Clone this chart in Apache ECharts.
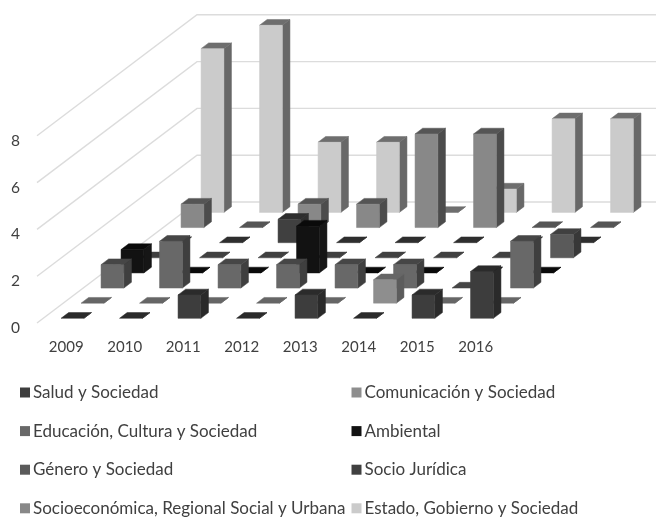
<!DOCTYPE html>
<html>
<head>
<meta charset="utf-8">
<style>
  html, body { margin: 0; padding: 0; background: #fff; }
  #chart { width: 656px; height: 517px; }
</style>
</head>
<body>
<div id="chart"></div>
<script src="https://cdn.jsdelivr.net/npm/echarts@6/dist/echarts.min.js"></script>
<script>
const years = ['2009', '2010', '2011', '2012', '2013', '2014', '2015', '2016']
const valueTicks = [0, 2, 4, 6, 8]

// filas de delante hacia atrás
const salud = [0, 0, 1, 0, 1, 0, 1, 2]
const comunicacion = [0, 0, 0, 0, 0, 1, 0, 0]
const educacion = [1, 2, 1, 1, 1, 1, 0, 2]
const ambiental = [1, 0, 0, 2, 0, 0, 0, 0]
const genero = [0, 0, 0, 0, 0, 0, 0, 1]
const socioJuridica = [0, 0, 1, 0, 0, 0, 0, 0]
const socioeconomica = [1, 0, 1, 1, 4, 4, 0, 0]
const estado = [7, 8, 3, 3, 0, 1, 4, 4]

const rows = [
  { name: 'Salud y Sociedad', values: salud, front: '#3d3d3d', top: '#2b2b2b', side: '#2a2a2a' },
  { name: 'Comunicación y Sociedad', values: comunicacion, front: '#8e8e8e', top: '#666666', side: '#5c5c5c' },
  { name: 'Educación, Cultura y Sociedad', values: educacion, front: '#686868', top: '#464646', side: '#3f3f3f' },
  { name: 'Ambiental', values: ambiental, front: '#121212', top: '#0a0a0a', side: '#161616' },
  { name: 'Género y Sociedad', values: genero, front: '#5a5a5a', top: '#404040', side: '#383838' },
  { name: 'Socio Jurídica', values: socioJuridica, front: '#404040', top: '#2e2e2e', side: '#2f2f2f' },
  { name: 'Socioeconómica, Regional Social y Urbana', values: socioeconomica, front: '#888888', top: '#555555', side: '#4c4c4c' },
  { name: 'Estado, Gobierno y Sociedad', values: estado, front: '#cbcbcb', top: '#6e6e6e', side: '#686868' }
]

// proyección oblicua del fondo del gráfico
const floorDepthX = 160
const floorDepthY = -121
const barWidthRatio = 0.39
const barDepthRatio = 0.38

const textColor = '#404040'
const fontFamily = 'Lato, "Open Sans", sans-serif'

const polygon = (points, fill) => ({
  type: 'polygon',
  shape: { points },
  style: { fill, stroke: fill, lineWidth: 0.5 }
})

const wallSeries = {
  type: 'custom',
  name: 'wall',
  silent: true,
  z: 1,
  data: valueTicks.map((v) => [0, v]),
  encode: { x: 0, y: 1 },
  renderItem: (params, api) => {
    const start = api.coord([0, api.value(1)])
    const bandWidth = api.size([1, 0])[0]
    const x0 = start[0] - bandWidth / 2
    const y0 = start[1]
    return {
      type: 'polyline',
      shape: { points: [[x0, y0], [x0 + floorDepthX, y0 + floorDepthY], [api.getWidth(), y0 + floorDepthY]] },
      style: { fill: null, stroke: '#dcdcdc', lineWidth: 1.4 }
    }
  }
}

const barSeries = rows.map((row, rowIndex) => ({
  type: 'custom',
  name: row.name,
  silent: true,
  z: 20 - rowIndex,
  itemStyle: { color: row.front },
  data: row.values.map((v, i) => [i, v]),
  encode: { x: 0, y: 1 },
  renderItem: (params, api) => {
    const base = api.coord([api.value(0), 0])
    const topY = api.coord([api.value(0), api.value(1)])[1]
    const bandWidth = api.size([1, 0])[0]
    const stepX = floorDepthX / rows.length
    const stepY = floorDepthY / rows.length
    const inset = (1 - barDepthRatio) / 2
    const w = bandWidth * barWidthRatio
    const dx = stepX * barDepthRatio
    const dy = stepY * barDepthRatio
    const x = base[0] - w / 2 + stepX * (rowIndex + inset)
    const shift = stepY * (rowIndex + inset)
    const yb = base[1] + shift
    const yt = topY + shift
    const faces = [
      polygon([[x + w, yb], [x + w + dx, yb + dy], [x + w + dx, yt + dy], [x + w, yt]], row.side),
      polygon([[x, yt], [x + dx, yt + dy], [x + w + dx, yt + dy], [x + w, yt]], row.top)
    ]
    if (api.value(1) > 0) {
      faces.push(polygon([[x, yb], [x + w, yb], [x + w, yt], [x, yt]], row.front))
    }
    return { type: 'group', children: faces }
  }
}))

const legendBase = {
  orient: 'vertical',
  top: 384,
  height: 140,
  padding: 0,
  itemWidth: 10,
  itemHeight: 10,
  itemGap: 21.6,
  icon: 'rect',
  selectedMode: false,
  textStyle: { color: textColor, fontSize: 17, fontFamily, padding: [0, 0, 0, -2] }
}

const chart = echarts.init(document.getElementById('chart'))
chart.setOption({
  animation: false,
  backgroundColor: '#ffffff',
  grid: { left: 37, width: 468, top: 135.8, height: 187.2, containLabel: false },
  legend: [
    { ...legendBase, left: 20, data: [rows[0].name, rows[2].name, rows[4].name, rows[6].name] },
    { ...legendBase, left: 351.5, data: [rows[1].name, rows[3].name, rows[5].name, rows[7].name] }
  ],
  xAxis: {
    type: 'category',
    data: years,
    axisLine: { show: false },
    axisTick: { show: false },
    axisLabel: { color: textColor, fontSize: 15, fontFamily, margin: 17, interval: 0 }
  },
  yAxis: {
    type: 'value',
    min: 0,
    max: 8,
    interval: 2,
    axisLine: { show: false },
    axisTick: { show: false },
    splitLine: { show: false },
    axisLabel: { color: textColor, fontSize: 15.5, fontFamily, margin: 17, verticalAlign: 'top', lineHeight: 10 }
  },
  series: [wallSeries, ...barSeries]
})
</script>
</body>
</html>
